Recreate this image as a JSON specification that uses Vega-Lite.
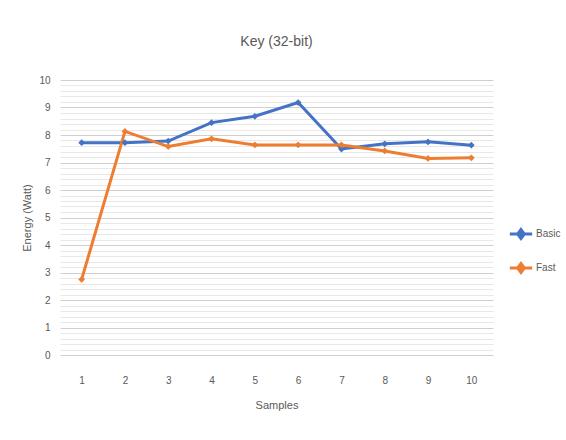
{
  "$schema": "https://vega.github.io/schema/vega-lite/v6.json",
  "autosize": "none",
  "width": 433,
  "height": 275,
  "padding": {"left": 60, "top": 80, "right": 73, "bottom": 85},
  "background": "white",
  "title": {
    "text": "Key (32-bit)",
    "fontSize": 14,
    "fontWeight": "normal",
    "color": "#595959",
    "offset": 26,
    "anchor": "middle"
  },
  "config": {
    "font": "Liberation Sans Narrow, Liberation Sans, sans-serif",
    "view": {"stroke": null}
  },
  "data": {
    "values": [
      {"sample": 1, "series": "Basic", "energy": 7.72},
      {"sample": 2, "series": "Basic", "energy": 7.72},
      {"sample": 3, "series": "Basic", "energy": 7.78},
      {"sample": 4, "series": "Basic", "energy": 8.45},
      {"sample": 5, "series": "Basic", "energy": 8.68},
      {"sample": 6, "series": "Basic", "energy": 9.18},
      {"sample": 7, "series": "Basic", "energy": 7.49},
      {"sample": 8, "series": "Basic", "energy": 7.68},
      {"sample": 9, "series": "Basic", "energy": 7.75},
      {"sample": 10, "series": "Basic", "energy": 7.63},
      {"sample": 1, "series": "Fast", "energy": 2.75},
      {"sample": 2, "series": "Fast", "energy": 8.13},
      {"sample": 3, "series": "Fast", "energy": 7.58},
      {"sample": 4, "series": "Fast", "energy": 7.86},
      {"sample": 5, "series": "Fast", "energy": 7.64},
      {"sample": 6, "series": "Fast", "energy": 7.64},
      {"sample": 7, "series": "Fast", "energy": 7.64},
      {"sample": 8, "series": "Fast", "energy": 7.42},
      {"sample": 9, "series": "Fast", "energy": 7.15},
      {"sample": 10, "series": "Fast", "energy": 7.17}
    ]
  },
  "encoding": {
    "x": {
      "field": "sample",
      "type": "ordinal",
      "scale": {"type": "point", "padding": 0.5},
      "axis": {
        "title": "Samples",
        "labelAngle": 0,
        "labelFontSize": 10,
        "labelColor": "#595959",
        "labelPadding": 20,
        "titleFontSize": 11,
        "titleFontWeight": "normal",
        "titleColor": "#595959",
        "titlePadding": 14,
        "domain": false,
        "ticks": false,
        "grid": false
      }
    },
    "y": {
      "field": "energy",
      "type": "quantitative",
      "scale": {"domain": [0, 10], "nice": false, "zero": true},
      "axis": {
        "title": "Energy (Watt)",
        "values": [0, 0.2, 0.4, 0.6, 0.8, 1, 1.2, 1.4, 1.6, 1.8, 2, 2.2, 2.4, 2.6, 2.8, 3, 3.2, 3.4, 3.6, 3.8, 4, 4.2, 4.4, 4.6, 4.8, 5, 5.2, 5.4, 5.6, 5.8, 6, 6.2, 6.4, 6.6, 6.8, 7, 7.2, 7.4, 7.6, 7.8, 8, 8.2, 8.4, 8.6, 8.8, 9, 9.2, 9.4, 9.6, 9.8, 10],
        "labelExpr": "abs(datum.value - round(datum.value)) < 0.01 ? format(datum.value, 'd') : ''",
        "gridColor": {
          "condition": {"test": "abs(datum.value - round(datum.value)) < 0.01", "value": "#d0d0d0"},
          "value": "#e8e8e8"
        },
        "gridWidth": 1,
        "labelFontSize": 10,
        "labelColor": "#595959",
        "labelPadding": 10,
        "titleFontSize": 11,
        "titleFontWeight": "normal",
        "titleColor": "#595959",
        "titlePadding": 6,
        "domain": false,
        "ticks": false
      }
    },
    "color": {
      "field": "series",
      "type": "nominal",
      "scale": {"domain": ["Basic", "Fast"], "range": ["#4472C4", "#ED7D31"]},
      "legend": {
        "title": null,
        "orient": "none",
        "legendX": 448,
        "legendY": 141,
        "symbolType": "M-1,0L1,0M0,-0.4L0.3,0L0,0.4L-0.3,0Z",
        "symbolSize": 500,
        "symbolStrokeWidth": 3,
        "labelFontSize": 10,
        "labelColor": "#595959",
        "labelOffset": 2,
        "rowPadding": 10
      }
    }
  },
  "layer": [
    {"mark": {"type": "line", "strokeWidth": 3}},
    {"mark": {"type": "point", "shape": "diamond", "filled": true, "size": 45, "opacity": 1}}
  ]
}
